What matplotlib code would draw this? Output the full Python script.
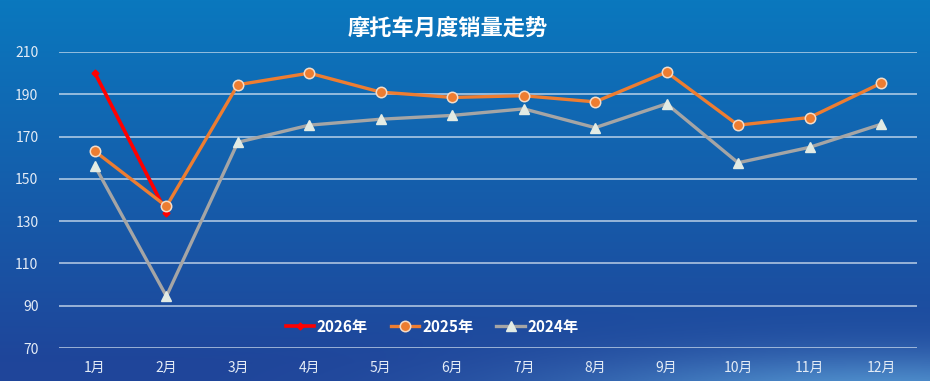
import numpy as np
import matplotlib.pyplot as plt

plt.rcParams['font.family'] = ['Noto Sans CJK SC', 'DejaVu Sans']

# data
months = ['1月', '2月', '3月', '4月', '5月', '6月', '7月', '8月', '9月', '10月', '11月', '12月']
sales_2026 = [200, 134]
sales_2025 = [163, 137, 194.5, 200, 191, 188.5, 189.3, 186.4, 200.5, 175.4, 179, 195.2]
sales_2024 = [156, 94.5, 167.3, 175.4, 178.2, 180, 183.1, 174.2, 185.5, 157.6, 164.9, 175.8]
yticks = [70, 90, 110, 130, 150, 170, 190, 210]

fig = plt.figure(figsize=(9.3, 3.81), dpi=100)

# background: blue vertical gradient with a lighter sweep at the bottom right
bg = fig.add_axes([0, 0, 1, 1])
bg.set_axis_off()
ny, nx = 200, 400
yy, xx = np.mgrid[0:1:ny * 1j, 0:1:nx * 1j]
t = np.clip(yy * 1.05, 0, 1)
top = np.array([0x0a, 0x78, 0xbe]) / 255
bot = np.array([0x1f, 0x45, 0x9a]) / 255
img = top[None, None, :] * (1 - t[..., None]) + bot[None, None, :] * t[..., None]
glow = np.exp(-(((xx - 0.95) / 0.35) ** 2 + ((yy - 1.05) / 0.12) ** 2))
glow_col = np.array([0x6a, 0xb8, 0xe8]) / 255
img = img * (1 - 0.7 * glow[..., None]) + glow_col[None, None, :] * 0.7 * glow[..., None]
bg.imshow(img, aspect='auto', extent=[0, 1, 0, 1], origin='upper')
bg.set_xlim(0, 1)
bg.set_ylim(0, 1)

ax = fig.add_axes([0.0637, 0.0866, 0.922, 0.777])
ax.patch.set_alpha(0)
x = np.arange(len(months))

ax.plot(x[:len(sales_2026)], sales_2026, color='#ff0000', lw=2.6, marker='D', ms=3.5,
        mfc='#ff0000', mec='#ff0000', label='2026年', zorder=3)
ax.plot(x, sales_2025, color='#ed7d31', lw=2.4, marker='o', ms=7.5,
        mfc='#ed7d31', mec='#f4dcc8', mew=1.1, label='2025年', zorder=4)
ax.plot(x, sales_2024, color='#a5a5a5', lw=2.4, marker='^', ms=7,
        mfc='#e2ebe4', mec='#e2ebe4', label='2024年', zorder=2)

ax.set_xlim(-0.5, len(months) - 0.5)
ax.set_ylim(70, 210)
ax.set_yticks(yticks)
ax.set_xticks(x)
ax.set_xticklabels(months)
ax.grid(axis='y', color='#d6e4f2', lw=1.1, alpha=0.85)
ax.set_axisbelow(True)
for s in ax.spines.values():
    s.set_visible(False)
ax.tick_params(axis='y', length=0, pad=15, labelsize=10, labelcolor='#e4ecf6')
ax.tick_params(axis='x', length=0, pad=9, labelsize=10, labelcolor='#e4ecf6')

leg = ax.legend(loc='center', bbox_to_anchor=(0.435, 0.072), ncol=3, frameon=False,
                handlelength=1.85, columnspacing=1.5, handletextpad=0.2,
                borderaxespad=0, borderpad=0, prop={'size': 11, 'weight': 'bold'})
for txt in leg.get_texts():
    txt.set_color('white')

fig.text(0.481, 0.925, '摩托车月度销量走势', color='white', fontsize=16,
         fontweight='bold', ha='center', va='center')

fig.savefig('out.png', dpi=100)
